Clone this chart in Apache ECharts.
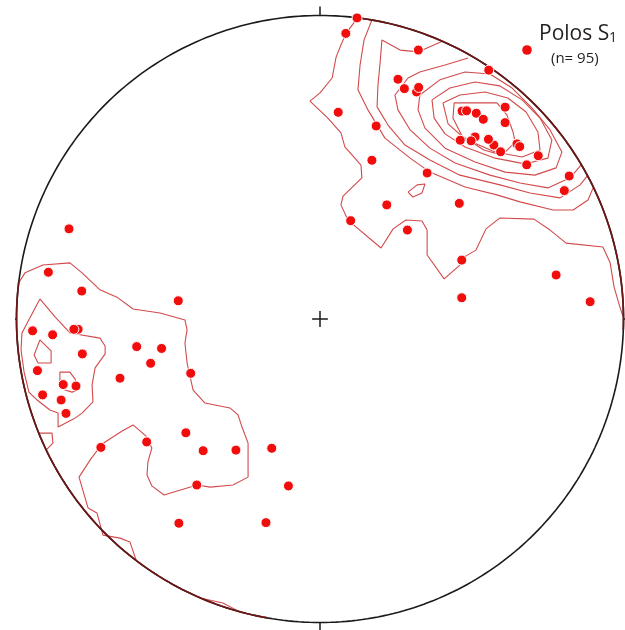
<!DOCTYPE html>
<html>
<head>
<meta charset="utf-8">
<script src="https://cdn.jsdelivr.net/npm/echarts@6/dist/echarts.min.js"></script>
<style>
  html, body { margin: 0; padding: 0; background: #ffffff; }
  #chart { width: 625px; height: 630px; }
</style>
</head>
<body>
<div id="chart"></div>
<script>
// Lower-hemisphere equal-area net. Net units: primitive circle radius = 100,
// x towards E, y towards N. Poles to S1 and density contours.

// Poles partly covered by neighbouring poles (plotted first)
const polesCovered = [
  [31.8, 74.8], [46.8, 68.5], [51.1, 60.0], [57.3, 57.3], [64.9, 57.7],
  [-79.7, -3.4]
];

// Poles, NE maximum
const polesNE = [
  [12.2, 99.2], [8.5, 94.1], [32.4, 88.6], [55.6, 82.0], [25.7, 79.0],
  [27.8, 75.9], [32.5, 76.3], [6.0, 68.1], [18.5, 63.6], [48.3, 68.6],
  [51.5, 67.8], [53.8, 65.8], [61.0, 69.8], [61.0, 64.7], [46.2, 58.9],
  [49.8, 58.7], [55.5, 59.2], [59.5, 55.1], [65.8, 56.8], [71.9, 53.8],
  [68.1, 50.8], [82.1, 47.1], [80.5, 42.3], [17.1, 52.3], [35.3, 48.1],
  [22.0, 37.6], [45.9, 38.1], [10.1, 32.4], [28.8, 29.3], [46.7, 19.4],
  [77.8, 14.5], [46.7, 7.0], [89.0, 5.7]
];

// Poles, SW group
const polesSW = [
  [-82.7, 29.7], [-89.5, 15.4], [-78.5, 9.2], [-46.7, 6.0], [-94.7, -3.9],
  [-88.1, -5.2], [-81.1, -3.4], [-78.3, -11.5], [-60.4, -9.1], [-52.2, -9.7],
  [-55.8, -14.6], [-93.1, -17.0], [-65.9, -19.5], [-42.6, -17.9], [-84.6, -21.6],
  [-80.4, -22.1], [-91.4, -25.0], [-85.3, -26.7], [-83.7, -31.1], [-44.2, -37.5],
  [-72.2, -42.3], [-57.1, -40.5], [-38.5, -43.4], [-27.7, -43.2], [-15.9, -42.6],
  [-40.6, -54.7], [-10.4, -55.0], [-46.5, -67.3], [-17.8, -67.1]
];

const poleCount = 95;

// Density contours (open lines end on the primitive circle)
const contourNE1 = [
  [12.4, 99.2], [8.6, 94.2], [6.9, 90.3], [5.3, 86.3], [4.0, 79.4], [0.0, 74.5],
  [-3.3, 71.8], [2.6, 66.2], [6.9, 61.3], [8.2, 56.7], [13.5, 50.7], [13.8, 46.5],
  [7.6, 40.5], [6.9, 37.6], [9.2, 32.6], [20.1, 23.4], [24.1, 29.7], [28.3, 32.6],
  [33.6, 32.3], [35.3, 29.3], [35.3, 21.1], [40.9, 13.2], [45.8, 17.5], [48.1, 20.8],
  [51.4, 22.7], [54.7, 29.7], [59.3, 33.3], [70.5, 32.9], [75.8, 29.3], [81.1, 25.0],
  [93.2, 23.7], [95.6, 18.5], [96.9, 10.5], [98.8, 4.0], [99.8, 1.0]
];
const contourNE2 = [
  [17.1, 98.5], [14.5, 91.9], [13.2, 83.7], [12.5, 75.5], [15.8, 68.9], [21.4, 59.6],
  [29.7, 53.0], [36.2, 48.4], [47.8, 43.5], [58.3, 40.9], [65.9, 38.6], [76.8, 35.9],
  [83.4, 35.9], [88.3, 39.2], [90.0, 43.2]
];
const contourNE3 = [
  [40.5, 91.6], [32.3, 88.0], [26.4, 88.6], [20.4, 91.9], [19.8, 84.4], [19.1, 77.1],
  [18.8, 69.9], [22.4, 63.9], [28.0, 57.3], [36.2, 52.4], [46.1, 47.4], [59.3, 44.2],
  [69.2, 41.5], [79.1, 39.9], [85.7, 44.2], [88.0, 47.1]
];
const contourNE4 = [
  [48.8, 86.0], [41.2, 83.7], [32.9, 81.4], [29.0, 79.4], [24.7, 73.8], [25.7, 68.9],
  [29.7, 62.3], [36.2, 56.3], [44.5, 51.4], [56.0, 47.4], [65.9, 44.8], [75.1, 43.2],
  [82.4, 46.5], [86.0, 50.7]
];
const contourNE5 = [
  [32.9, 73.8], [39.5, 78.8], [47.8, 81.4], [56.0, 80.7], [63.3, 76.1], [69.9, 69.5],
  [75.8, 62.3], [79.7, 55.0], [77.8, 49.8], [70.8, 47.4], [61.0, 48.4], [51.1, 51.7],
  [41.2, 56.3], [34.6, 62.9], [32.3, 68.9]
];
const contourNE6 = [
  [36.9, 72.2], [42.8, 76.1], [51.1, 78.1], [59.3, 76.8], [66.6, 72.2], [72.5, 66.2],
  [76.4, 59.0], [75.1, 53.0], [67.5, 51.1], [57.7, 53.0], [47.8, 56.7], [41.2, 61.0],
  [37.6, 66.2]
];
const contourNE7 = [
  [40.5, 71.2], [46.1, 73.8], [54.4, 74.8], [61.9, 72.8], [67.9, 68.2], [71.8, 61.6],
  [72.5, 55.7], [66.6, 53.4], [57.7, 55.0], [47.8, 59.3], [42.2, 64.3]
];
const contourNE8 = [
  [44.2, 71.2], [58.3, 71.2], [61.6, 67.2], [63.6, 61.6], [64.3, 58.3], [60.0, 54.0],
  [54.0, 55.7], [46.8, 60.3], [43.8, 66.2]
];
const contourNEIsle = [
  [29.0, 41.8], [32.0, 44.2], [34.6, 44.5], [33.6, 41.5], [30.6, 40.2]
];
const contourSW1 = [
  [-99.3, 11.9], [-97.2, 15.2], [-91.3, 17.8], [-82.4, 18.5], [-78.4, 15.2], [-72.5, 9.6],
  [-66.9, 7.2], [-61.6, 3.3], [-52.7, 2.0], [-44.5, -0.3], [-43.8, -3.6], [-44.5, -7.9],
  [-43.8, -14.5], [-42.8, -19.1], [-41.8, -23.4], [-37.9, -27.7], [-29.7, -29.3],
  [-27.0, -31.6], [-25.7, -35.6], [-23.7, -40.9], [-23.7, -52.1], [-28.7, -54.7],
  [-36.2, -55.4], [-40.5, -54.7], [-51.4, -58.0], [-55.4, -55.0], [-57.0, -51.4],
  [-56.7, -47.1], [-55.4, -42.5], [-57.3, -38.6], [-61.6, -34.9], [-65.2, -36.9],
  [-71.8, -41.2], [-75.5, -46.1], [-79.4, -52.1], [-76.4, -62.3], [-73.5, -63.9],
  [-71.5, -71.2], [-65.9, -72.2], [-62.6, -73.5], [-60.6, -79.4]
];
const contourSW2 = [
  [-92.3, 6.6], [-87.3, 0.7], [-82.4, -4.6], [-72.5, -6.3], [-70.8, -8.9], [-70.8, -11.5],
  [-74.1, -16.1], [-75.1, -21.7], [-74.8, -27.3], [-78.4, -31.0], [-81.1, -32.9],
  [-86.3, -35.6], [-86.3, -31.0], [-89.0, -30.0], [-93.2, -26.7], [-95.9, -24.1],
  [-97.5, -17.5], [-98.5, -10.2], [-98.2, -4.6], [-95.6, 0.3]
];
const contourSW3a = [
  [-92.3, -6.9], [-88.6, -10.5], [-88.6, -14.5], [-92.9, -14.5], [-94.2, -11.9]
];
const contourSW3b = [
  [-85.7, -17.5], [-82.4, -17.5], [-80.7, -19.8], [-79.7, -23.4], [-81.7, -24.1],
  [-84.0, -23.4], [-85.7, -21.7]
];
const contourEdgeW = [[-92.6, -37.6], [-88.3, -37.6], [-88.0, -40.9], [-90.3, -43.2]];
const contourEdgeS = [[-39.5, -91.9], [-32.0, -93.6], [-26.4, -96.5]];

const openContours = [contourNE1, contourNE2, contourNE3, contourNE4, contourSW1,
  contourEdgeW, contourEdgeS];
const closedContours = [contourNE5, contourNE6, contourNE7, contourNE8, contourNEIsle,
  contourSW2, contourSW3a, contourSW3b];

// Azimuth ranges (degrees) where the lowest contour runs along the primitive
const edgeArcs = [[7, 92], [190, 277]];

const RED = '#f20d0d';
const CONTOUR = '#d24a4c';
const INK = '#1a1a1a';

function arc(fromDeg, toDeg) {
  const pts = [];
  for (let a = fromDeg; a <= toDeg + 1e-9; a += 1) {
    const r = a * Math.PI / 180;
    pts.push([100 * Math.sin(r), 100 * Math.cos(r)]);
  }
  return pts;
}

function lineSeries(data, color, width, z) {
  return {
    type: 'line', data: data, showSymbol: false, symbol: 'none', silent: true,
    clip: false, animation: false, z: z,
    lineStyle: { color: color, width: width }
  };
}

const series = [];
openContours.forEach(c => series.push(lineSeries(c, CONTOUR, 1.1, 2)));
closedContours.forEach(c => series.push(lineSeries(c.concat([c[0]]), CONTOUR, 1.1, 2)));

// primitive circle, ticks and centre cross
series.push(lineSeries(arc(0, 360), INK, 1.6, 3));
edgeArcs.forEach(r => series.push(lineSeries(arc(r[0], r[1]), '#6e1616', 1.7, 4)));
series.push(lineSeries([[0, 100], [0, 103]], INK, 1.5, 3));
series.push(lineSeries([[0, -100], [0, -103]], INK, 1.5, 3));
series.push(lineSeries([[-100, 0], [-103.3, 0]], INK, 1.5, 3));
series.push(lineSeries([[100, 0], [103.3, 0]], INK, 1.5, 3));
series.push(lineSeries([[-2.6, 0], [2.6, 0]], INK, 1.5, 3));
series.push(lineSeries([[0, -2.6], [0, 2.6]], INK, 1.5, 3));

const poleStyle = { color: RED, opacity: 1, borderColor: '#ffffff', borderWidth: 1 };
[polesCovered, polesNE, polesSW].forEach(d => series.push({
  type: 'scatter', data: d, symbol: 'circle', symbolSize: 10, silent: true,
  animation: false, z: 5, itemStyle: poleStyle
}));

const chart = echarts.init(document.getElementById('chart'), null, { renderer: 'canvas' });
chart.setOption({
  backgroundColor: '#ffffff',
  animation: false,
  grid: { left: 16.5, top: 15.5, width: 607, height: 607 },
  xAxis: { type: 'value', min: -100, max: 100, show: false },
  yAxis: { type: 'value', min: -100, max: 100, show: false },
  series: series,
  graphic: [
    { type: 'circle', shape: { cx: 527, cy: 50, r: 4.8 }, style: { fill: RED } },
    { type: 'text', left: 539, top: 24,
      style: { text: 'Polos S', font: '21px "Open Sans", sans-serif', fill: '#231f20' } },
    { type: 'text', left: 609, top: 31,
      style: { text: '1', font: '14px "Open Sans", sans-serif', fill: '#231f20' } },
    { type: 'text', left: 551, top: 51,
      style: { text: '(n= ' + poleCount + ')', font: '15px "Open Sans", sans-serif', fill: '#231f20' } }
  ]
});
</script>
</body>
</html>
